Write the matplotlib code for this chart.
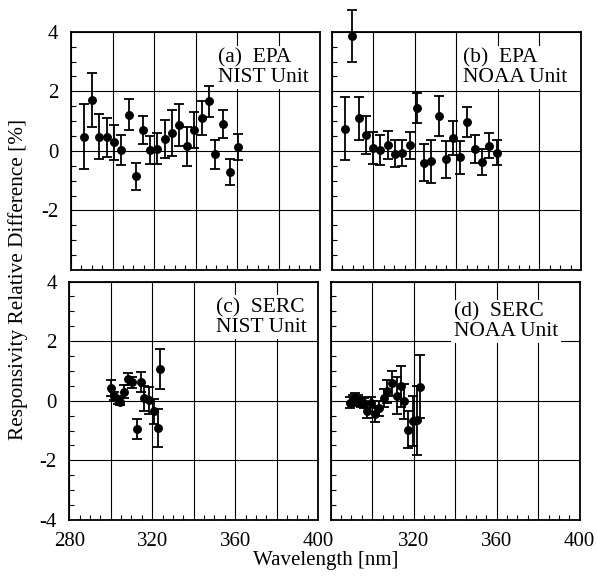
import matplotlib
matplotlib.use("Agg")
import matplotlib.pyplot as plt
from matplotlib.ticker import MultipleLocator, FixedLocator

plt.rcParams['font.family'] = ['Liberation Serif', 'DejaVu Serif']
plt.rcParams['axes.unicode_minus'] = False

# ---- data ----
a_wl = [286.4, 290.1, 293.7, 297.2, 300.6, 304.1, 307.8, 311.2, 314.7, 318.1, 321.6,
        325.3, 328.8, 332.2, 335.8, 339.3, 342.9, 346.4, 349.6, 353.3, 356.8, 360.4]
a_val = [0.48, 1.70, 0.48, 0.45, 0.29, 0.03, 1.22, -0.85, 0.69, 0.03, 0.07,
         0.40, 0.60, 0.88, 0.15, 0.71, 1.12, 1.66, -0.11, 0.89, -0.70, 0.12]
a_err = [1.10, 0.90, 0.76, 0.67, 0.58, 0.52, 0.51, 0.46, 0.47, 0.48, 0.52,
         0.65, 0.78, 0.71, 0.66, 0.61, 0.57, 0.53, 0.49, 0.47, 0.44, 0.44]

b_wl = [286.1, 289.6, 293.0, 296.5, 300.0, 303.4, 306.9, 310.4, 313.9, 317.4, 320.9,
        324.3, 327.8, 331.4, 334.9, 338.2, 341.8, 345.3, 348.8, 352.3, 355.8, 359.4]
b_val = [0.75, 3.85, 1.10, 0.54, 0.11, 0.03, 0.20, -0.09, -0.07, 0.19, 1.44,
         -0.39, -0.35, 1.17, -0.28, 0.44, -0.22, 0.98, 0.08, -0.37, 0.18, -0.06]
b_err = [1.05, 0.87, 0.72, 0.63, 0.54, 0.50, 0.47, 0.44, 0.43, 0.45, 0.51,
         0.61, 0.73, 0.67, 0.62, 0.58, 0.54, 0.51, 0.47, 0.44, 0.42, 0.41]

c_wl = [300.2, 301.8, 303.3, 304.6, 306.4, 308.2, 310.1, 312.6, 314.6, 316.0, 318.2,
        321.0, 322.7, 323.6]
c_val = [0.44, 0.15, 0.02, -0.04, 0.30, 0.73, 0.62, -0.94, 0.63, 0.08, 0.01,
         -0.36, -0.93, 1.06]
c_err = [0.27, 0.14, 0.13, 0.12, 0.22, 0.21, 0.18, 0.33, 0.34, 0.43, 0.45,
         0.41, 0.64, 0.67]

d_wl = [289.3, 290.6, 291.8, 293.0, 294.5, 296.0, 297.3, 299.4, 301.2, 303.4, 305.5,
        306.9, 309.4, 312.0, 313.9, 315.4, 317.4, 319.8, 321.5, 323.1]
d_val = [-0.06, 0.02, 0.06, 0.00, -0.04, -0.08, -0.36, -0.06, -0.45, -0.26, 0.10,
         0.31, 0.58, 0.17, 0.48, -0.02, -0.97, -0.68, -0.66, 0.47]
d_err = [0.18, 0.18, 0.20, 0.18, 0.17, 0.17, 0.22, 0.18, 0.26, 0.25, 0.30,
         0.40, 0.41, 0.62, 0.68, 0.58, 0.62, 0.85, 1.15, 1.05]

panel_labels = ["(a)  EPA\nNIST Unit", "(b)  EPA\nNOAA Unit",
                "(c)  SERC\nNIST Unit", "(d)  SERC\nNOAA Unit"]
x_ticks = [280, 320, 360, 400]
y_ticks = [-4, -2, 0, 2, 4]
x_grid = [280, 300, 320, 340, 360, 380, 400]

fig = plt.figure(figsize=(5.97, 5.77), dpi=100)

W, H = 0.417, 0.413
positions = [(0.119, 0.532), (0.556, 0.532), (0.116, 0.099), (0.554, 0.099)]
text_pos = [(0.589, 0.93), (0.528, 0.93), (0.588, 0.93), (0.495, 0.913)]
data = [(a_wl, a_val, a_err), (b_wl, b_val, b_err),
        (c_wl, c_val, c_err), (d_wl, d_val, d_err)]

for i, (pos, (wl, val, err)) in enumerate(zip(positions, data)):
    ax = fig.add_axes([pos[0], pos[1], W, H])
    ax.set_xlim(280, 400)
    ax.set_ylim(-4, 4)
    ax.xaxis.set_major_locator(FixedLocator(x_grid))
    ax.yaxis.set_major_locator(FixedLocator(y_ticks))
    ax.xaxis.set_minor_locator(MultipleLocator(5))
    ax.yaxis.set_minor_locator(MultipleLocator(0.5))
    ax.grid(True, which='major', color='black', lw=0.8, zorder=1)
    ax.tick_params(which='both', direction='in', top=False, right=False,
                   labelsize=15, colors='black')
    ax.tick_params(which='major', length=0)
    ax.tick_params(axis='x', which='major', pad=9)
    ax.tick_params(axis='y', which='major', pad=9)
    ax.tick_params(which='minor', length=3.5, width=0.8)
    for s in ax.spines.values():
        s.set_linewidth(1.3)

    if i == 2:
        ax.set_xticklabels([str(t) if t in x_ticks else "" for t in x_grid])
    elif i == 3:
        ax.set_xticklabels([str(t) if (t in x_ticks and t != 280) else "" for t in x_grid])
    else:
        ax.set_xticklabels([])
    if i == 0:
        ax.set_yticklabels([str(t) if t != -4 else "" for t in y_ticks])
    elif i == 2:
        ax.set_yticklabels([str(t) for t in y_ticks])
    else:
        ax.set_yticklabels([])

    ax.errorbar(wl, val, yerr=err, fmt='o', color='black', ms=5.4,
                elinewidth=1.3, capsize=3.5, capthick=1.3, zorder=3, clip_on=False)

    tx, ty = text_pos[i]
    ax.text(tx, ty, panel_labels[i], transform=ax.transAxes, ha='left', va='top',
            fontsize=15.5, linespacing=1.0, zorder=5,
            bbox=dict(facecolor='white', edgecolor='none', pad=2))

fig.text(0.546, 0.020, "Wavelength [nm]", ha='center', va='baseline', fontsize=15)
fig.text(0.03, 0.515, "Responsivity Relative Difference [%]", ha='center', va='center',
         rotation=90, fontsize=15.3)

fig.savefig("out.png", dpi=100)
